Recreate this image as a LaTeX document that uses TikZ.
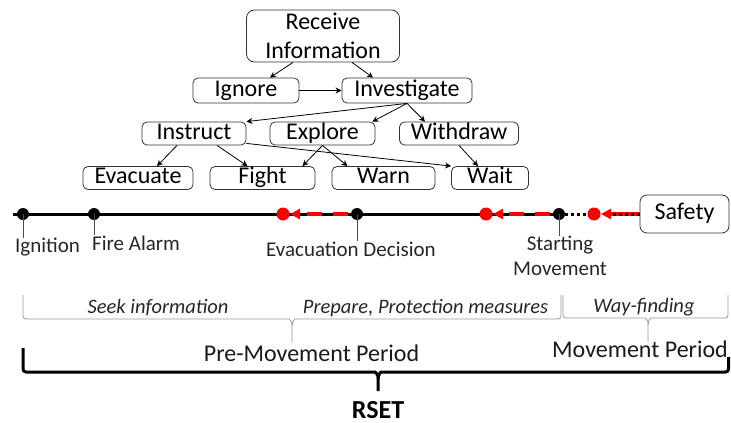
\documentclass[tikz,border=0pt]{standalone}
\usepackage{fontspec}
\setmainfont{Carlito}
\usetikzlibrary{arrows.meta, positioning}
\tikzstyle{box} = [draw=black!80, line width=0.8pt, rounded corners=5pt, inner sep=0pt, font=\fontsize{24}{29}\selectfont]
\tikzstyle{act} = [box, minimum height=23pt, text height=16pt, text depth=5pt]
\tikzstyle{arrow} = [line width=0.8pt,-{Stealth[length=6pt,width=6pt]},draw=black]
\tikzstyle{lbl} = [inner sep=0pt, font=\fontsize{21}{25}\selectfont, text=black!85]
\tikzstyle{phase} = [inner sep=0pt, font=\fontsize{20.5}{24}\selectfont\itshape, text=black!85]
\tikzstyle{period} = [inner sep=0pt, font=\fontsize{24}{28}\selectfont, text=black!90]
\tikzstyle{tick} = [draw=black!70, line width=0.7pt]
\tikzstyle{tline} = [line width=3pt, draw=black]
\tikzstyle{dotline} = [line width=3pt, draw=black, dash pattern=on 3pt off 3pt]
\tikzstyle{redline} = [line width=3.5pt, draw=red, -{Triangle[length=10pt,width=10pt]}]
\tikzstyle{reddash} = [redline, dash pattern=on 15pt off 11pt]
\tikzstyle{thinbrace} = [draw=black!40, line width=0.8pt, rounded corners=3pt]
\tikzstyle{bigbrace} = [draw=black, line width=3pt, rounded corners=3pt]

\begin{document}
\begin{tikzpicture}[x=1pt, y=-1pt]
    \useasboundingbox (0,0) rectangle (731,423);

    % decision tree
    \node (recv) [box, align=center, rounded corners=8pt, minimum width=153pt, minimum height=52pt] at (323,36) {Receive\\Information};
    \node (ignore) [act, minimum width=106pt, minimum height=25pt] at (246,90.5) {Ignore};
    \node (invest) [act, minimum width=130pt, minimum height=25pt] at (407,90.5) {Investigate};
    \node (instruct) [act, minimum width=104pt] at (194,133.5) {Instruct};
    \node (explore) [act, minimum width=105pt] at (322.5,133.5) {Explore};
    \node (withdraw) [act, minimum width=119pt] at (459,133.5) {Withdraw};
    \node (evacuate) [act, minimum width=110pt] at (138,178) {Evacuate};
    \node (fight) [act, minimum width=105pt] at (262.5,178) {Fight};
    \node (warn) [act, minimum width=103pt] at (383.5,178) {Warn};
    \node (wait) [act, minimum width=77pt] at (490,178) {Wait};

    \draw [arrow] ([xshift=-30pt]recv.south) -- ([xshift=24pt]ignore.north);
    \draw [arrow] ([xshift=29pt]recv.south) -- ([xshift=-34pt]invest.north);
    \draw [arrow] (ignore) -- (invest);
    \draw [arrow] (invest.south) -- (instruct.north east);
    \draw [arrow] (invest.south) -- ([xshift=-3pt]explore.north east);
    \draw [arrow] (invest.south) -- ([xshift=-34pt]withdraw.north);
    \draw [arrow] ([xshift=-17pt]instruct.south) -- ([xshift=19pt]evacuate.north);
    \draw [arrow] ([xshift=23pt]instruct.south) -- ([xshift=-15pt]fight.north);
    \draw [arrow] ([yshift=2pt]instruct.south east) -- (wait.north west);
    \draw [arrow] (explore.south) -- ([xshift=40pt]fight.north);
    \draw [arrow] (explore.south) -- ([xshift=-36pt]warn.north);
    \draw [arrow] (withdraw.south) -- ([xshift=-12pt]wait.north);

    % time line
    \node (safety) [act, rounded corners=7pt, minimum width=89pt, minimum height=38pt] at (684.5,214) {Safety};
    \coordinate (tstart) at (13,214);
    \coordinate (ignition) at (23,214);
    \coordinate (alarm) at (94,214);
    \coordinate (red1) at (283,214);
    \coordinate (decision) at (357,214);
    \coordinate (red2) at (486,214);
    \coordinate (startmv) at (559,214);
    \coordinate (red3) at (594,214);

    \draw [tline] (tstart) -- (startmv);
    \draw [dotline] (startmv) -- (red3);
    \draw [redline, shorten >=7pt] (safety.west) -- (red3);
    \draw [dotline, shorten >=18pt] (safety.west) -- (red3);
    \draw [reddash, shorten <=9pt, shorten >=7pt] (decision) -- (red1);
    \draw [reddash, shorten <=9pt, shorten >=7pt] (startmv) -- (red2);

    \fill [black] (ignition) circle (6pt);
    \fill [black] (alarm) circle (6pt);
    \fill [black] (decision) circle (6pt);
    \fill [black] (startmv) circle (6pt);
    \fill [red] (red1) circle (6.5pt);
    \fill [red] (red2) circle (6.5pt);
    \fill [red] (red3) circle (6.5pt);

    \node (ignlbl) [lbl, anchor=base west] at (15,252.5) {Ignition};
    \node (alarmlbl) [lbl, anchor=base west] at (92,250) {Fire Alarm};
    \node (declbl) [lbl, anchor=base west] at (266,256) {Evacuation Decision};
    \node (mvlbl) [lbl, anchor=north, align=center] at (560,236) {Starting\\Movement};

    \draw [tick] (ignition) -- (ignition |- ignlbl.north);
    \draw [tick] (alarm) -- (alarm |- alarmlbl.north);
    \draw [tick] (decision) -- (decision |- declbl.north);
    \draw [tick] (startmv) -- (startmv |- mvlbl.north);

    % phases
    \node (seek) [phase, anchor=base] at (158,313) {Seek information};
    \node (prep) [phase, anchor=base] at (425.5,313) {Prepare, Protection measures};
    \node (way) [phase, anchor=base] at (644,312) {Way-finding};
    \draw [thinbrace] (23,295) -- (23,319) -- (286,319) to[out=0,in=90] (292,326) -- (292,343);
    \draw [thinbrace] (292,326) to[out=90,in=180] (298,319) -- (561,319) -- (561,295);
    \draw [thinbrace] (563,295) -- (563,318) -- (642,318) to[out=0,in=90] (648,325) -- (648,342);
    \draw [thinbrace] (648,325) to[out=90,in=180] (654,318) -- (728,318) -- (728,295);

    \node (premv) [period, anchor=base] at (311.5,361) {Pre-Movement Period};
    \node (mv) [period, anchor=base] at (640,357) {Movement Period};
    \draw [bigbrace] (23,348) -- (23,372) -- (372,372) to[out=0,in=90] (378,379) -- (378,391);
    \draw [bigbrace] (378,379) to[out=90,in=180] (384,372) -- (728.5,372) -- (728.5,357);

    \node (rset) [anchor=base, inner sep=0pt, font=\fontsize{26}{30}\selectfont\bfseries] at (378,418) {RSET};
\end{tikzpicture}
\end{document}
